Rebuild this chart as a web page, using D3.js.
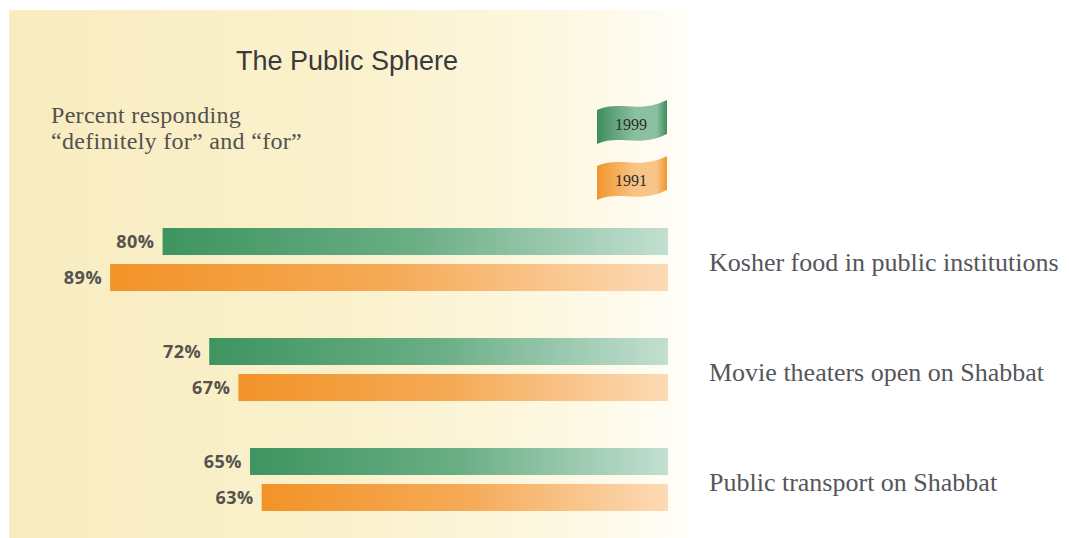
<!DOCTYPE html>
<html>
<head>
<meta charset="utf-8">
<script src="https://cdn.jsdelivr.net/npm/d3@7"></script>
<style>
  body { margin: 0; background: #fff; }
  svg { display: block; }
</style>
</head>
<body>
<div id="chart"></div>
<script>
// chart values
const categories = [
  "Kosher food in public institutions",
  "Movie theaters open on Shabbat",
  "Public transport on Shabbat",
];
const years = ["1999", "1991"];
const values1999 = [80, 72, 65];
const values1991 = [89, 67, 63];

const width = 1069, height = 538;

const svg = d3.select("#chart").append("svg")
  .attr("width", width)
  .attr("height", height);

const defs = svg.append("defs");

// panel background: cream on the left fading to almost white on the right
const bgGrad = defs.append("linearGradient").attr("id", "bgGrad")
  .attr("x1", 0).attr("x2", 1).attr("y1", 0).attr("y2", 0);
bgGrad.append("stop").attr("offset", 0).attr("stop-color", "#f8ecc0");
bgGrad.append("stop").attr("offset", 0.5).attr("stop-color", "#faf1cc");
bgGrad.append("stop").attr("offset", 0.82).attr("stop-color", "#fdf8e2");
bgGrad.append("stop").attr("offset", 1).attr("stop-color", "#fffef8");

svg.append("rect")
  .attr("x", 9).attr("y", 10)
  .attr("width", 680).attr("height", 528)
  .attr("fill", "url(#bgGrad)");

// bar fills
const makeGrad = (id, c0, c1, c2) => {
  const g = defs.append("linearGradient").attr("id", id)
    .attr("x1", 0).attr("x2", 1).attr("y1", 0).attr("y2", 0);
  g.append("stop").attr("offset", 0).attr("stop-color", c0);
  g.append("stop").attr("offset", 0.5).attr("stop-color", c1);
  g.append("stop").attr("offset", 1).attr("stop-color", c2);
};
makeGrad("green", "#3e9460", "#6aae85", "#c2dfd1");
makeGrad("orange", "#f29328", "#f5aa56", "#fcdab5");
const fills = { "1999": "url(#green)", "1991": "url(#orange)" };
const flagColors = { "1999": ["#3f8d5e", "#8cc0a0"], "1991": ["#f0962e", "#f9c488"] };

// bars grow leftwards from a shared right edge
const barRight = 668;
const x = d3.scaleLinear().domain([-6.7, 100]).range([barRight, 46]);

const y0 = d3.scaleBand().domain(categories).range([228, 511]).paddingInner(0.427);
const y1 = d3.scaleBand().domain(years).range([0, y0.bandwidth()]).paddingInner(0.25);

const rows = [];
categories.forEach((c, i) => {
  rows.push({ cat: c, year: "1999", value: values1999[i] });
  rows.push({ cat: c, year: "1991", value: values1991[i] });
});

svg.append("g").selectAll("rect")
  .data(rows)
  .join("rect")
  .attr("x", (d) => x(d.value))
  .attr("y", (d) => y0(d.cat) + y1(d.year))
  .attr("width", (d) => barRight - x(d.value))
  .attr("height", y1.bandwidth())
  .attr("fill", (d) => fills[d.year]);

svg.append("g").selectAll("text")
  .data(rows)
  .join("text")
  .attr("x", (d) => x(d.value) - 8)
  .attr("y", (d) => y0(d.cat) + y1(d.year) + y1.bandwidth() / 2)
  .attr("dy", "0.36em")
  .attr("text-anchor", "end")
  .style("font-family", "'Open Sans', 'DejaVu Sans', sans-serif")
  .style("font-weight", "bold")
  .style("font-size", "18px")
  .style("letter-spacing", "0.5px")
  .style("fill", "#55534f")
  .text((d) => d.value + "%");

// category labels to the right of the panel
svg.append("g").selectAll("text")
  .data(categories)
  .join("text")
  .attr("x", 709)
  .attr("y", (d) => y0(d) + y0.bandwidth() / 2 + 3)
  .attr("dy", "0.34em")
  .style("font-family", "'Liberation Serif', 'Times New Roman', serif")
  .style("font-size", "26px")
  .style("fill", "#55565a")
  .text((d) => d);

// title
svg.append("text")
  .attr("x", 347).attr("y", 70)
  .attr("text-anchor", "middle")
  .style("font-family", "'Liberation Sans', Arial, sans-serif")
  .style("font-size", "27px")
  .style("fill", "#3a3a3a")
  .text("The Public Sphere");

// subtitle, two lines
const subLines = ["Percent responding", "\u201Cdefinitely for\u201D and \u201Cfor\u201D"];
svg.append("g").selectAll("text")
  .data(subLines)
  .join("text")
  .attr("x", 51)
  .attr("y", (d, i) => 123 + i * 26)
  .style("font-family", "'Liberation Serif', 'Times New Roman', serif")
  .style("font-size", "24px")
  .style("letter-spacing", "0.3px")
  .style("fill", "#54524e")
  .text((d) => d);

// legend flags (wavy banners)
const flagY = d3.scalePoint().domain(years).range([104, 160]);
const flagPath = (fx, fy) => {
  const w = 70, h = 34;
  const p = d3.path();
  p.moveTo(fx, fy + 6);
  p.bezierCurveTo(fx + 22, fy - 4, fx + 42, fy + 10, fx + w, fy - 4);
  p.lineTo(fx + w, fy + h - 4);
  p.bezierCurveTo(fx + 42, fy + h + 10, fx + 22, fy + h - 4, fx, fy + h + 6);
  p.closePath();
  return p.toString();
};
years.forEach((yr) => {
  const fy = flagY(yr);
  const g = defs.append("linearGradient").attr("id", "flag" + yr)
    .attr("x1", 0).attr("x2", 1).attr("y1", 0).attr("y2", 0);
  g.append("stop").attr("offset", 0).attr("stop-color", flagColors[yr][0]);
  g.append("stop").attr("offset", 0.55).attr("stop-color", flagColors[yr][1]);
  g.append("stop").attr("offset", 0.85).attr("stop-color", flagColors[yr][1]);
  g.append("stop").attr("offset", 1).attr("stop-color", flagColors[yr][0]);
  svg.append("path")
    .attr("d", flagPath(597, fy))
    .attr("fill", "url(#flag" + yr + ")");
  svg.append("text")
    .attr("x", 631).attr("y", fy + 26)
    .attr("text-anchor", "middle")
    .style("font-family", "'Liberation Serif', 'Times New Roman', serif")
    .style("font-size", "16px")
    .style("fill", "#2c2c2c")
    .text(yr);
});
</script>
</body>
</html>
